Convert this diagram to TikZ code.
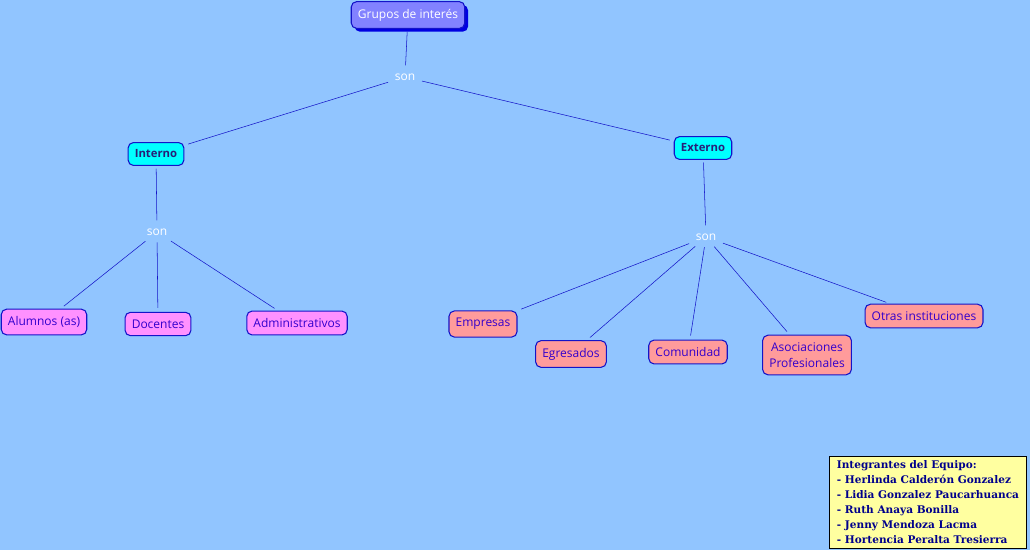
\documentclass[tikz,border=0pt]{standalone}
\usepackage{fontspec}
\setmainfont{Open Sans}
\newfontfamily\legendfont{DejaVu Serif}
\usetikzlibrary{positioning,shapes,shadows}
\definecolor{fondo}{RGB}{145,197,255}
\definecolor{linea}{RGB}{20,20,200}
\definecolor{raizfill}{RGB}{130,130,255}
\definecolor{sombra}{RGB}{0,0,225}
\definecolor{cian}{RGB}{0,255,255}
\definecolor{rosa}{RGB}{255,145,255}
\definecolor{salmon}{RGB}{255,155,155}
\definecolor{textoazul}{RGB}{51,0,204}
\definecolor{textogrupo}{RGB}{40,30,120}
\definecolor{amarillo}{RGB}{255,255,160}
\definecolor{textoequipo}{RGB}{0,0,140}

\begin{document}
\begin{tikzpicture}[x=0.75pt,y=-0.75pt,
		every node/.style={font=\fontsize{9}{10.5}\selectfont},
		concepto/.style={draw=linea, line width=0.8pt, rounded corners=4pt, inner xsep=5pt, inner ysep=5.5pt, text=textoazul},
		raiz/.style={concepto, fill=raizfill, text=white,
				drop shadow={shadow xshift=2.5pt, shadow yshift=-2.5pt, fill=sombra, opacity=1}},
		grupo/.style={concepto, fill=cian, text=textogrupo, font=\fontsize{8.5}{10}\selectfont\bfseries},
		interno/.style={concepto, fill=rosa},
		externo/.style={concepto, fill=salmon},
		enlace/.style={text=white, inner sep=3pt},
		rama/.style={draw=linea, shorten >=3pt, shorten <=2pt}]
	\useasboundingbox[fill=fondo] (0,0) rectangle (1030,550);

	% conceptos
	\node[raiz] (grupos) at (408,15) {Grupos de interés};
	\node[enlace] (son1) at (405,77) {son};
	\node[grupo] (interno) at (156,154) {Interno};
	\node[grupo] (externo) at (703,148) {Externo};
	\node[enlace] (son2) at (157,232) {son};
	\node[enlace] (son3) at (706,237) {son};

	\node[interno] (alumnos) at (44,322) {Alumnos (as)};
	\node[interno] (docentes) at (158,324) {Docentes};
	\node[interno] (admin) at (297,323) {Administrativos};

	\node[externo] (empresas) at (483,324) {Empresas};
	\node[externo] (egresados) at (571,354) {Egresados};
	\node[externo] (comunidad) at (688,352) {Comunidad};
	\node[externo, align=center, inner ysep=5.5pt, font=\fontsize{9}{12}\selectfont]
		(asociaciones) at (807,355) {Asociaciones\\Profesionales};
	\node[externo] (otras) at (924,316) {Otras instituciones};

	% enlaces
	\draw[rama] (grupos) -- (son1);
	\draw[rama] (son1) -- (interno);
	\draw[rama] (son1) -- (externo);
	\draw[rama] (interno) -- (son2);
	\draw[rama] (externo) -- (son3);
	\foreach \h in {alumnos,docentes,admin}
		\draw[rama] (son2) -- (\h);
	\foreach \h in {empresas,egresados,comunidad,asociaciones,otras}
		\draw[rama] (son3) -- (\h);

	% equipo
	\node[draw=black, fill=amarillo, anchor=north west, minimum width=148pt, minimum height=69pt,
		inner sep=2pt, align=left, text=textoequipo,
		font=\legendfont\bfseries\fontsize{7.9}{11.2}\selectfont]
		(equipo) at (829,456) {Integrantes del Equipo:\\
		- Herlinda Calderón Gonzalez\\
		- Lidia Gonzalez Paucarhuanca\\
		- Ruth Anaya Bonilla\\
		- Jenny Mendoza Lacma\\
		- Hortencia Peralta Tresierra};
\end{tikzpicture}
\end{document}
